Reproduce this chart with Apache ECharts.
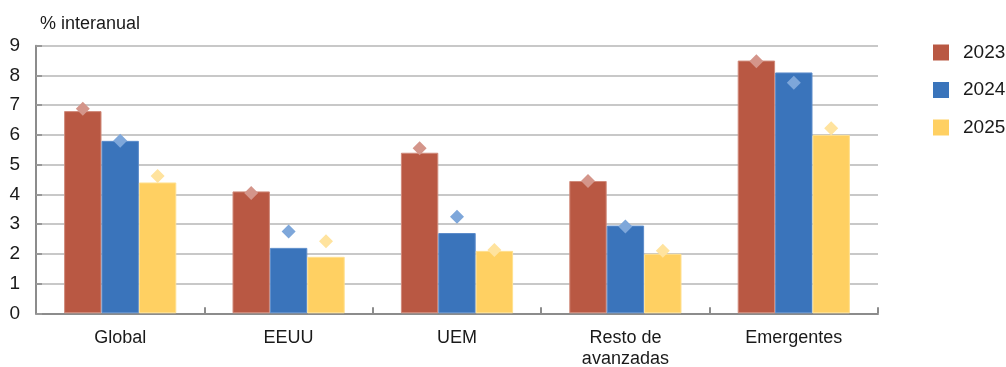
<!DOCTYPE html>
<html>
<head>
<meta charset="utf-8">
<title>Crecimiento interanual</title>
<script src="https://cdn.jsdelivr.net/npm/echarts@6/dist/echarts.min.js"></script>
<style>
  html, body { margin: 0; padding: 0; background: #ffffff; }
  #chart { width: 1006px; height: 367px; }
</style>
</head>
<body>
<div id="chart"></div>
<script>
// Categories and yearly values (% interanual)
const categories = ['Global', 'EEUU', 'UEM', 'Resto de\navanzadas', 'Emergentes'];
const years = ['2023', '2024', '2025'];

// Bars: current figures
const bars2023 = [6.8, 4.1, 5.4, 4.45, 8.5];
const bars2024 = [5.8, 2.2, 2.7, 2.95, 8.1];
const bars2025 = [4.4, 1.9, 2.1, 2.0, 6.0];

// Diamonds: previous figures
const prev2023 = [6.88, 4.05, 5.55, 4.45, 8.48];
const prev2024 = [5.8, 2.75, 3.25, 2.92, 7.75];
const prev2025 = [4.62, 2.42, 2.13, 2.1, 6.22];

const yTicks = [0, 1, 2, 3, 4, 5, 6, 7, 8, 9];

const barColors = ['#B95843', '#3A74BB', '#FFD062'];
const barBorders = ['#D08A7B', '#5C8CCA', '#FFE08F'];
const diamondColors = ['#D4958A', '#7EA7DA', '#FFE39E'];

const FONT = '"Liberation Sans", Arial, Helvetica, sans-serif';
const BAR_W = 37.4;

const barSets = [bars2023, bars2024, bars2025];
const prevSets = [prev2023, prev2024, prev2025];

const series = [];
years.forEach((y, i) => {
  series.push({
    name: y,
    type: 'bar',
    data: barSets[i],
    barWidth: BAR_W,
    barGap: '0%',
    itemStyle: { color: barColors[i], borderColor: barBorders[i], borderWidth: 1 },
    z: 2
  });
});
years.forEach((y, i) => {
  series.push({
    name: y + ' ant.',
    type: 'scatter',
    data: prevSets[i],
    symbol: 'diamond',
    symbolSize: [14, 14],
    symbolOffset: [(i - 1) * BAR_W, 0],
    itemStyle: { color: diamondColors[i], opacity: 1 },
    z: 5,
    silent: true
  });
});

const chart = echarts.init(document.getElementById('chart'), null, { renderer: 'canvas' });
chart.setOption({
  animation: false,
  backgroundColor: '#ffffff',
  textStyle: { fontFamily: FONT },
  title: {
    text: '% interanual',
    left: 35,
    top: 10,
    textStyle: { fontFamily: FONT, fontSize: 18, fontWeight: 'normal', color: '#1a1a1a' }
  },
  legend: {
    data: years,
    orient: 'vertical',
    left: 928,
    top: 38,
    itemWidth: 16,
    itemHeight: 16,
    itemGap: 18.5,
    icon: 'rect',
    itemStyle: { borderWidth: 0 },
    textStyle: { fontFamily: FONT, fontSize: 19, color: '#1a1a1a', padding: [0, 0, 0, 9] }
  },
  grid: {
    left: 36, right: 128, top: 45.7, bottom: 367 - 313.3,
    containLabel: false,
    outerBoundsMode: 'none'
  },
  xAxis: {
    type: 'category',
    data: categories,
    axisLine: { show: true, lineStyle: { color: '#8c8c8c', width: 2 } },
    axisTick: { show: true, inside: true, length: 6, lineStyle: { color: '#8c8c8c', width: 2 } },
    axisLabel: { fontFamily: FONT, fontSize: 18, color: '#1a1a1a', margin: 14, lineHeight: 21, interval: 0 },
    splitLine: { show: false }
  },
  yAxis: {
    type: 'value',
    min: yTicks[0],
    max: yTicks[yTicks.length - 1],
    interval: 1,
    axisLine: { show: true, lineStyle: { color: '#8c8c8c', width: 2 } },
    axisTick: { show: true, inside: true, length: 6, lineStyle: { color: '#999999', width: 2 } },
    axisLabel: { fontFamily: FONT, fontSize: 19, color: '#1a1a1a', margin: 16 },
    splitLine: { show: true, lineStyle: { color: '#c8c8c8', width: 2 } }
  },
  series: series
});
</script>
</body>
</html>
